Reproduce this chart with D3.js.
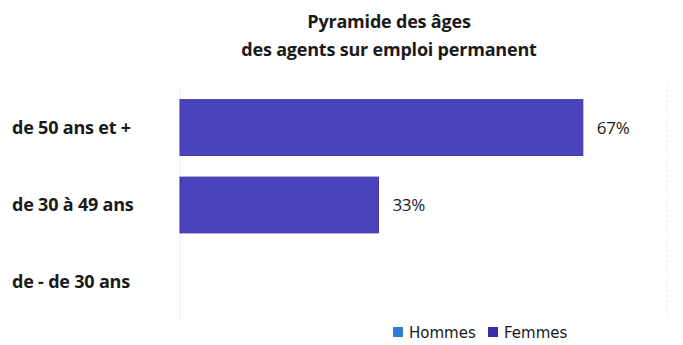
<!DOCTYPE html>
<html>
<head>
<meta charset="utf-8">
<script src="https://cdn.jsdelivr.net/npm/d3@7"></script>
<style>
  body { margin: 0; background: #fff; }
  svg text { font-family: "Open Sans", sans-serif; fill: #1a1a1a; }
</style>
</head>
<body>
<svg id="chart" width="683" height="345"></svg>
<script>
// data
let categories = ['de 50 ans et +', 'de 30 à 49 ans', 'de - de 30 ans'];
let femmes = [0.67, 0.33, 0];
let legendItems = ['Hommes', 'Femmes'];
let legendColors = ['#2f7ad6', '#3a2fa6'];
let titleLines = ['Pyramide des âges', 'des agents sur emploi permanent'];

let w = 683, h = 345;
let svg = d3.select('#chart');

let x = d3.scaleLinear().domain([0, 0.81]).range([180, 667]);
let y = d3.scaleBand()
    .domain(categories)
    .range([78, 332])
    .paddingInner(0.28)
    .paddingOuter(0.28);

// faint plot borders
svg.append('line')
    .attr('x1', x(0)).attr('x2', x(0))
    .attr('y1', 88).attr('y2', 320)
    .attr('stroke', '#ececec');
svg.append('line')
    .attr('x1', x(0.81)).attr('x2', x(0.81))
    .attr('y1', 85).attr('y2', 320)
    .attr('stroke', '#e8e8e8')
    .attr('stroke-dasharray', '2,3');

svg.append('g')
    .selectAll('text')
    .data(titleLines)
    .enter()
    .append('text')
    .attr('x', 389)
    .attr('y', (d, i) => 28 + i * 28)
    .attr('text-anchor', 'middle')
    .attr('font-weight', 'bold')
    .attr('font-size', 18)
    .attr('letter-spacing', -0.2)
    .text(d => d);

svg.append('g')
    .selectAll('text')
    .data(categories)
    .enter()
    .append('text')
    .attr('x', 12)
    .attr('y', d => y(d) + y.bandwidth() / 2 + 6)
    .attr('font-weight', 'bold')
    .attr('font-size', 18)
    .attr('letter-spacing', -0.2)
    .text(d => d);

let rows = categories.map((c, i) => ({ cat: c, v: femmes[i] })).filter(d => d.v > 0);

svg.append('g')
    .selectAll('rect')
    .data(rows)
    .enter()
    .append('rect')
    .attr('x', x(0))
    .attr('y', d => y(d.cat))
    .attr('width', d => x(d.v) - x(0))
    .attr('height', y.bandwidth())
    .attr('fill', '#4a43bb')
    .attr('stroke', '#3b34a8')
    .attr('stroke-width', 1);

svg.append('g')
    .selectAll('text')
    .data(rows)
    .enter()
    .append('text')
    .attr('x', d => x(d.v) + 14)
    .attr('y', d => y(d.cat) + y.bandwidth() / 2 + 6)
    .attr('font-size', 17)
    .attr('letter-spacing', -0.3)
    .text(d => Math.round(d.v * 100) + '%');

let legend = svg.append('g')
    .attr('transform', 'translate(393, 332)')
    .selectAll('g')
    .data(legendItems)
    .enter()
    .append('g')
    .attr('transform', (d, i) => `translate(${i * 95}, 0)`);

legend.append('rect')
    .attr('x', 0).attr('y', -5)
    .attr('width', 10).attr('height', 10)
    .attr('fill', (d, i) => legendColors[i]);

legend.append('text')
    .attr('x', 16)
    .attr('y', 6)
    .style('font-family', '"DejaVu Sans", sans-serif')
    .attr('font-size', 15)
    .text(d => d);
</script>
</body>
</html>
